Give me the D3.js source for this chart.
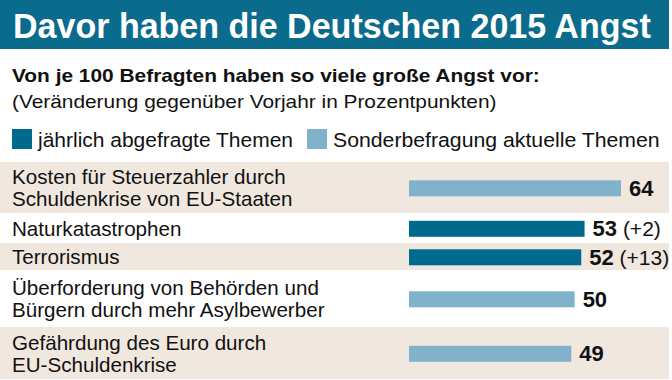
<!DOCTYPE html>
<html>
<head>
<meta charset="utf-8">
<script src="https://cdn.jsdelivr.net/npm/d3@7/dist/d3.min.js"></script>
<style>
  html, body { margin: 0; padding: 0; background: #fff; }
  svg { display: block; font-family: "Liberation Sans", Arial, Helvetica, sans-serif; }
</style>
</head>
<body>
<svg id="chart" width="672" height="380"></svg>
<script>
// ---- data ----
const title = "Davor haben die Deutschen 2015 Angst";
const subtitle = "Von je 100 Befragten haben so viele große Angst vor:";
const note = "(Veränderung gegenüber Vorjahr in Prozentpunkten)";
const legendLabels = ["jährlich abgefragte Themen", "Sonderbefragung aktuelle Themen"];
const categories = [
  ["Kosten für Steuerzahler durch", "Schuldenkrise von EU-Staaten"],
  ["Naturkatastrophen"],
  ["Terrorismus"],
  ["Überforderung von Behörden und", "Bürgern durch mehr Asylbewerber"],
  ["Gefährdung des Euro durch", "EU-Schuldenkrise"]
];
const values = [64, 53, 52, 50, 49];
const changes = [null, "+2", "+13", null, null];
const types = [1, 0, 0, 1, 1]; // 0 = jährlich, 1 = Sonderbefragung

// ---- layout / styles ----
const rowHeights = [51, 30, 27, 57, 52];
const C = {
  head: "#0b6b8d",
  dark: "#006a8e",
  light: "#80b2cb",
  band: "#f0e8df",
  text: "#111"
};
const typeColor = [C.dark, C.light];

const svg = d3.select("#chart");

// fit text horizontally to a target width via a scale transform
function fitText(sel, x0, y0, target) {
  const w = sel.node().getComputedTextLength();
  sel.attr("x", 0).attr("y", 0)
     .attr("transform", `translate(${x0},${y0}) scale(${target / w},1)`);
}

// title bar
svg.append("rect").attr("x", 0).attr("y", 0).attr("width", 669).attr("height", 49).attr("fill", C.head);
const tt = svg.append("text")
  .attr("fill", "#fff").attr("font-weight", "bold").attr("font-size", 36)
  .text(title);
fitText(tt, 13, 38, 638);

const st = svg.append("text")
  .attr("fill", C.text).attr("font-weight", "bold").attr("font-size", 18)
  .text(subtitle);
fitText(st, 12, 82, 528);
const nt = svg.append("text")
  .attr("fill", C.text).attr("font-size", 18)
  .text(note);
fitText(nt, 12, 108, 485);

// legend
const legX = [12, 307];
const legW = [281, 353];
legendLabels.forEach((l, i) => {
  svg.append("rect").attr("x", legX[i]).attr("y", 129).attr("width", 20).attr("height", 20).attr("fill", typeColor[i]);
  const lt = svg.append("text")
    .attr("fill", C.text).attr("font-size", 19.5)
    .text(l);
  fitText(lt, legX[i] + 26, 147, legW[i] - 26);
});

// rows layout
const rowTop = 162, lineH = 22;
let y0 = rowTop;
const rows = categories.map((c, i) => {
  const r = { y: y0, h: rowHeights[i], lines: c, i: i };
  y0 += rowHeights[i];
  return r;
});

const x = d3.scaleLinear().domain([0, 64]).range([409, 621]);

const g = svg.append("g");
const row = g.selectAll("g.row").data(rows).join("g").attr("class", "row");

row.append("rect")
  .attr("x", 0).attr("width", 669)
  .attr("y", d => d.y).attr("height", d => d.h)
  .attr("fill", (d, i) => i % 2 === 0 ? C.band : "#fff");

row.each(function(d) {
  const sel = d3.select(this);
  const n = d.lines.length;
  const cy = d.y + d.h / 2;
  d.lines.forEach((ln, k) => {
    sel.append("text")
      .attr("x", 12)
      .attr("y", cy + 7.5 + (k - (n - 1) / 2) * lineH)
      .attr("fill", C.text).attr("font-size", 20.6)
      .text(ln);
  });
  const bcy = cy + 0.8;
  sel.append("rect")
    .attr("x", x(0)).attr("width", x(values[d.i]) - x(0))
    .attr("y", bcy - 8).attr("height", 16)
    .attr("fill", typeColor[types[d.i]]);
  const t = sel.append("text")
    .attr("x", x(values[d.i]) + 8).attr("y", bcy + 7.5)
    .attr("fill", C.text).attr("font-size", 21);
  t.append("tspan").attr("font-weight", "bold").attr("font-size", 22).text(values[d.i]);
  if (changes[d.i]) t.append("tspan").attr("font-weight", "normal").text(" (" + changes[d.i] + ")");
});
</script>
</body>
</html>
